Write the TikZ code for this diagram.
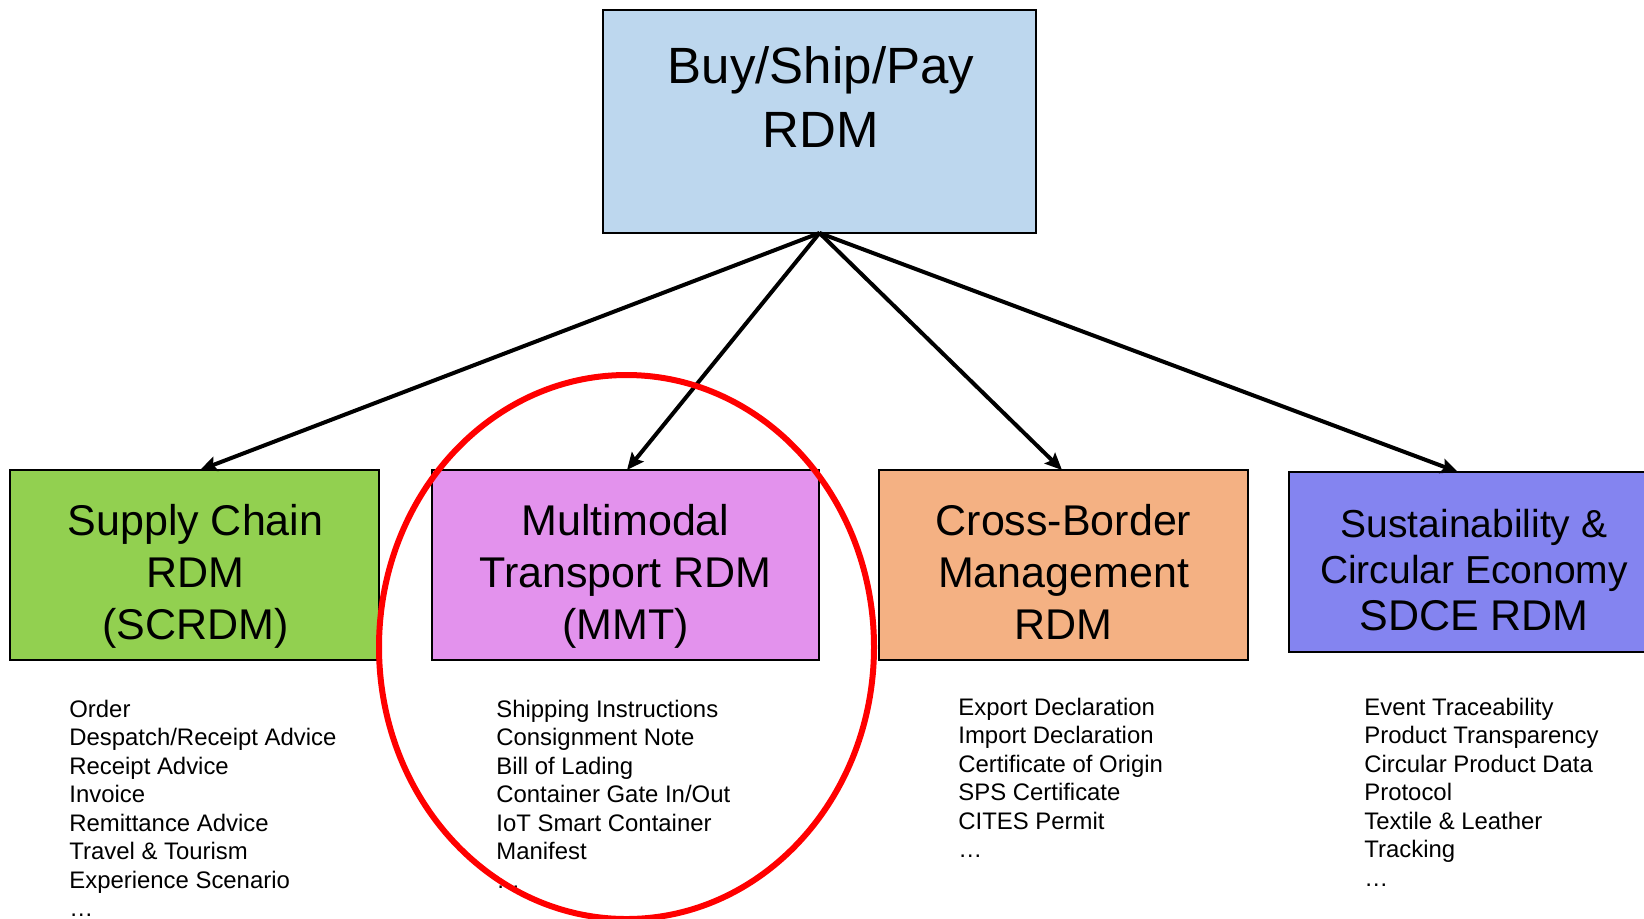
\documentclass[tikz,border=0pt]{standalone}
\usepackage{fontspec}
\setmainfont{Liberation Sans}
\usetikzlibrary{arrows.meta,calc}
\definecolor{topblue}{RGB}{189,215,238}
\definecolor{scgreen}{RGB}{146,208,80}
\definecolor{mmtpink}{RGB}{227,146,237}
\definecolor{cborange}{RGB}{244,177,131}
\definecolor{sdcepurple}{RGB}{132,132,240}
\definecolor{ringred}{RGB}{255,0,0}
\tikzset{
  box/.style={draw=black, line width=1pt, inner sep=0pt, outer sep=0pt},
  toptext/.style={font=\fontsize{25.5pt}{32pt}\selectfont, align=center, anchor=base, inner sep=0pt},
  childtext/.style={font=\fontsize{21.5pt}{26pt}\selectfont, align=center, anchor=base, inner sep=0pt},
  listtext/.style={font=\fontsize{11.95pt}{14.25pt}\selectfont, align=left, anchor=base west, inner sep=0pt},
  conn/.style={line width=2pt, -{Stealth[length=8.5pt,width=7.5pt,inset=1.5pt]}},
  ring/.style={draw=ringred, line width=3pt}
}
\begin{document}
\begin{tikzpicture}[x=0.5pt,y=-0.5pt]
\clip (0,0) rectangle (1644,918);
% boxes
\node[box, fill=topblue, minimum width=216.5pt, minimum height=111.5pt] (top) at (819.5,121.5) {};
\node[box, fill=scgreen, minimum width=184.5pt, minimum height=95pt] (sc) at (194.5,565) {};
\node[box, fill=mmtpink, minimum width=193.5pt, minimum height=95pt] (mmt) at (625.5,565) {};
\node[box, fill=cborange, minimum width=184.5pt, minimum height=95pt] (cb) at (1063.5,565) {};
\node[box, fill=sdcepurple, minimum width=185pt, minimum height=90pt] (sdce) at (1474,562) {};
% box texts (anchor = baseline of last line)
\node[toptext] (toplbl) at (821,147) {Buy/Ship/Pay\\RDM};
\node[childtext] (sclbl) at (195.5,639) {Supply Chain\\RDM\\(SCRDM)};
\node[childtext] (mmtlbl) at (625.5,639) {Multimodal\\Transport RDM\\(MMT)};
\node[childtext] (cblbl) at (1063.5,639) {Cross-Border\\Management\\RDM};
\node[font=\fontsize{19.5pt}{23pt}\selectfont, align=center, anchor=base, inner sep=0pt] (sdcelbl) at (1474,630) {Sustainability \&\\Circular Economy\\[0.4pt]{\fontsize{21.5pt}{26pt}\selectfont SDCE RDM}};
% connectors
\draw[conn] (top.south) -- ($(sc.north)+(5.5,0)$);
\draw[conn] (top.south) -- ($(mmt.north)+(1.5,0)$);
\draw[conn] (top.south) -- ($(cb.north)+(-1.5,0)$);
\draw[conn] (top.south) -- ($(sdce.north)+(-16,0)$);
% lists (anchor = baseline of last line)
\node[listtext] (sclist) at (69,916.5) {Order\\Despatch/Receipt Advice\\Receipt Advice\\Invoice\\Remittance Advice\\Travel \& Tourism\\Experience Scenario\\\dots};
\node[listtext] (mmtlist) at (496,888) {Shipping Instructions\\Consignment Note\\Bill of Lading\\Container Gate In/Out\\IoT Smart Container\\Manifest\\\dots};
\node[listtext] (cblist) at (958,857.5) {Export Declaration\\Import Declaration\\Certificate of Origin\\SPS Certificate\\CITES Permit\\\dots};
\node[listtext] (sdcelist) at (1364,886) {Event Traceability\\Product Transparency\\Circular Product Data\\Protocol\\Textile \& Leather\\Tracking\\\dots};
% highlight ring
\draw[ring] (626.5,647) ellipse [x radius=247.5, y radius=272];
\end{tikzpicture}
\end{document}
